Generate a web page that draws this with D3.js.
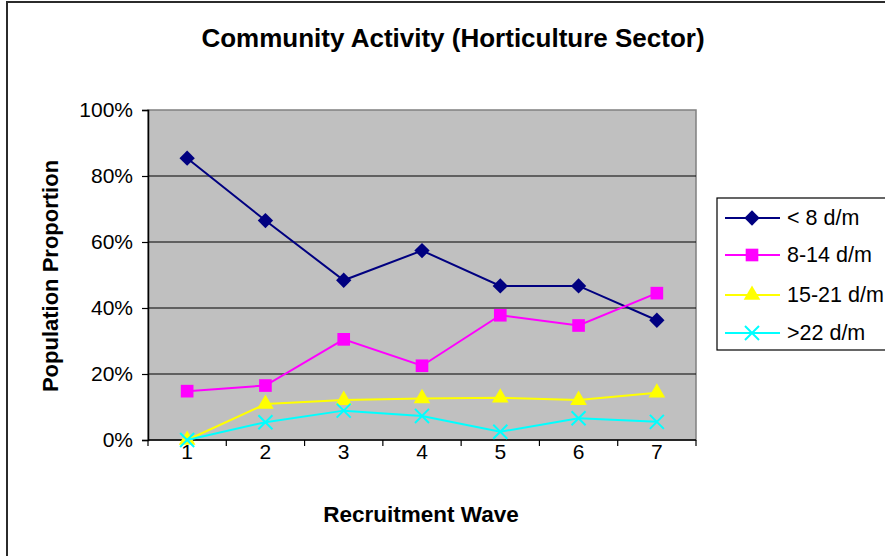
<!DOCTYPE html>
<html>
<head>
<meta charset="utf-8">
<script src="https://cdn.jsdelivr.net/npm/d3@7"></script>
<style>
  html, body { margin: 0; padding: 0; background: #fff; }
  svg { display: block; font-family: "Liberation Sans", Arial, sans-serif; }
</style>
</head>
<body>
<svg id="chart" width="885" height="556"></svg>
<script>
// Recruitment waves along the x axis
const waves = ["1", "2", "3", "4", "5", "6", "7"];

// Share of the population in each community-activity band (percent)
const lessThan8 = [85.4, 66.5, 48.4, 57.4, 46.7, 46.7, 36.3];
const from8to14 = [14.8, 16.5, 30.5, 22.5, 37.8, 34.7, 44.5];
const from15to21 = [0, 10.9, 12.1, 12.6, 12.8, 12.1, 14.3];
const over22 = [0, 5.4, 8.9, 7.3, 2.5, 6.6, 5.5];

const seriesNames = ["< 8 d/m", "8-14 d/m", "15-21 d/m", ">22 d/m"];
const yTicks = [0, 20, 40, 60, 80, 100];

const series = [
  { name: seriesNames[0], values: lessThan8, color: "#000080", marker: "diamond" },
  { name: seriesNames[1], values: from8to14, color: "#FF00FF", marker: "square" },
  { name: seriesNames[2], values: from15to21, color: "#FFFF00", marker: "triangle" },
  { name: seriesNames[3], values: over22, color: "#00FFFF", marker: "cross" }
];

const svg = d3.select("#chart");
const plot = { left: 148, right: 696, top: 110, bottom: 440 };

const x = d3.scaleBand().domain(waves).range([plot.left, plot.right]);
const y = d3.scaleLinear().domain([0, 100]).range([plot.bottom, plot.top]);

// Outer chart frame (only top and left edges fall inside the view)
svg.append("rect")
  .attr("x", 7).attr("y", 2).attr("width", 920).attr("height", 600)
  .attr("fill", "none").attr("stroke", "#2b2b2b").attr("stroke-width", 2);

// Title
svg.append("text")
  .attr("x", 453).attr("y", 47)
  .attr("text-anchor", "middle")
  .attr("font-size", 26).attr("font-weight", "bold")
  .text("Community Activity (Horticulture Sector)");

// Plot background
svg.append("rect")
  .attr("x", plot.left).attr("y", plot.top)
  .attr("width", plot.right - plot.left).attr("height", plot.bottom - plot.top)
  .attr("fill", "#C0C0C0").attr("stroke", "#808080").attr("stroke-width", 1.5);

// Horizontal gridlines
svg.append("g")
  .selectAll("line")
  .data(yTicks.filter(t => t > 0 && t < 100))
  .join("line")
  .attr("x1", plot.left).attr("x2", plot.right)
  .attr("y1", d => y(d)).attr("y2", d => y(d))
  .attr("stroke", "#000").attr("stroke-width", 1.2);

// Y axis
const yAxis = svg.append("g")
  .attr("transform", `translate(${plot.left},0)`)
  .call(d3.axisLeft(y).tickValues(yTicks).tickFormat(d => d + "%").tickSize(6).tickPadding(9));
yAxis.select(".domain").attr("stroke", "#000").attr("stroke-width", 1.5);
yAxis.selectAll(".tick line").attr("stroke", "#000").attr("stroke-width", 1.2);
yAxis.selectAll(".tick text")
  .attr("font-size", 21).attr("fill", "#000")
  .attr("font-family", "Liberation Sans, Arial, sans-serif");

// X axis: ticks sit between the waves, labels centred in each band
const xAxisG = svg.append("g").attr("transform", `translate(0,${plot.bottom})`);
xAxisG.append("line")
  .attr("x1", plot.left).attr("x2", plot.right)
  .attr("stroke", "#000").attr("stroke-width", 1.5);
const boundaries = waves.map(w => x(w)).concat([x(waves[waves.length - 1]) + x.bandwidth()]);
xAxisG.selectAll("line.tk")
  .data(boundaries)
  .join("line").attr("class", "tk")
  .attr("x1", d => d).attr("x2", d => d)
  .attr("y1", 0).attr("y2", 6)
  .attr("stroke", "#000").attr("stroke-width", 1.2);
xAxisG.selectAll("text")
  .data(waves)
  .join("text")
  .attr("x", d => x(d) + x.bandwidth() / 2)
  .attr("y", 19)
  .attr("text-anchor", "middle")
  .attr("font-size", 21)
  .text(d => d);

// Axis titles
svg.append("text")
  .attr("x", 421).attr("y", 522)
  .attr("text-anchor", "middle")
  .attr("font-size", 22.5).attr("font-weight", "bold")
  .text("Recruitment Wave");

svg.append("text")
  .attr("transform", "translate(58,276) rotate(-90)")
  .attr("text-anchor", "middle")
  .attr("font-size", 22).attr("font-weight", "bold")
  .text("Population Proportion");

// Marker shapes
const symbolFor = {
  diamond: d3.symbol().type(d3.symbolDiamond2).size(150),
  square: d3.symbol().type(d3.symbolSquare).size(160),
  triangle: d3.symbol().type(d3.symbolTriangle).size(120),
  cross: d3.symbol().type(d3.symbolX).size(130)
};

function drawMarker(g, s, cx, cy) {
  const path = g.append("path")
    .attr("d", symbolFor[s.marker]())
    .attr("transform", `translate(${cx},${cy})`);
  if (s.marker === "cross") {
    path.attr("fill", "none").attr("stroke", s.color).attr("stroke-width", 2);
  } else {
    path.attr("fill", s.color).attr("stroke", "none");
  }
}

const cx = w => x(w) + x.bandwidth() / 2;
const line = d3.line().x((d, i) => cx(waves[i])).y(d => y(d));

// Series lines and markers
series.forEach(s => {
  const g = svg.append("g");
  g.append("path")
    .datum(s.values)
    .attr("d", line)
    .attr("fill", "none")
    .attr("stroke", s.color)
    .attr("stroke-width", 2);
  s.values.forEach((v, i) => drawMarker(g, s, cx(waves[i]), y(v)));
});

// Legend
const legend = svg.append("g");
legend.append("rect")
  .attr("x", 717).attr("y", 198).attr("width", 200).attr("height", 152)
  .attr("fill", "#fff").attr("stroke", "#000").attr("stroke-width", 1.2);
const legendRows = [218, 255, 295, 333];
series.forEach((s, i) => {
  const ly = legendRows[i];
  legend.append("line")
    .attr("x1", 725).attr("x2", 780).attr("y1", ly).attr("y2", ly)
    .attr("stroke", s.color).attr("stroke-width", 2);
  drawMarker(legend, s, 752, ly);
  legend.append("text")
    .attr("x", 787).attr("y", ly + 7)
    .attr("font-size", 21.5)
    .text(s.name);
});
</script>
</body>
</html>
